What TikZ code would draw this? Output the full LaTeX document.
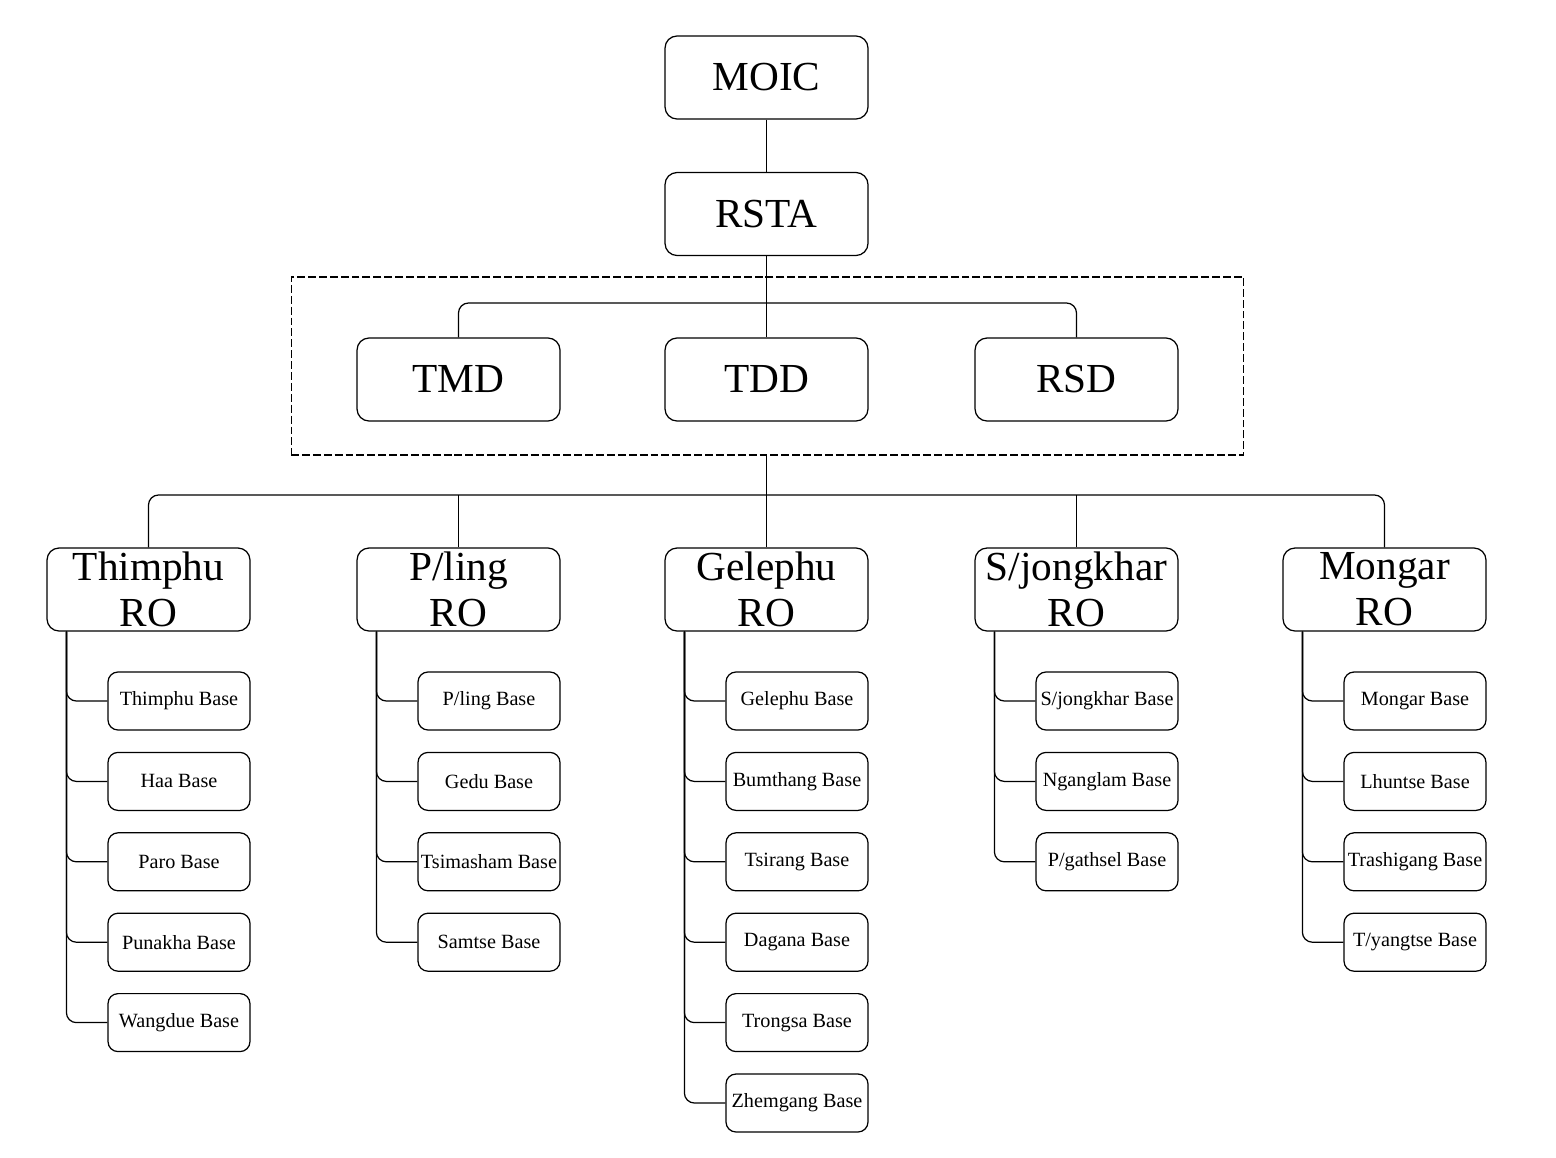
\documentclass[tikz,border=0pt]{standalone}
\usepackage{fontspec}
\setmainfont{Liberation Serif}
\usetikzlibrary{positioning}

\begin{document}
\begin{tikzpicture}[x=0.02cm, y=-0.02cm,
      office/.style={draw, rounded corners=0.24cm, minimum width=4.06cm, minimum height=1.66cm,
                     line width=0.7pt, inner sep=0pt, align=center, font=\fontsize{23.5}{26}\selectfont},
      base/.style={draw, rounded corners=0.2cm, minimum width=2.84cm, minimum height=1.16cm,
                   line width=0.7pt, inner sep=0pt, font=\fontsize{11.5}{13}\selectfont},
      group/.style={draw, dash pattern=on 4.5pt off 1.7pt, line width=0.6pt,
                    minimum width=19.06cm, minimum height=3.56cm},
      link/.style={line width=0.7pt, rounded corners=0.2cm}
    ]
    \useasboundingbox (0,0) rectangle (1556,1157);
    % head office
    \node[office] (moic) at (766.5,77.5) {MOIC};
    \node[office] (rsta) at (766.5,214) {RSTA};
    % divisions
    \node[group] (div) at (767.5,366) {};
    \node[office] (tmd) at (458.5,379.5) {TMD};
    \node[office] (tdd) at (766.5,379.5) {TDD};
    \node[office] (rsd) at (1076.5,379.5) {RSD};
    \coordinate (bus1) at (766.5,303);
    \coordinate (bus2) at (766.5,495);
    \draw[link] (moic) -- (rsta);
    \draw[link] (rsta) -- (tdd);
    \draw[link] (tmd.north) |- (bus1) -| (rsd.north);
    % regional offices
    \node[office] (thimphu) at (148.5,589.5) {Thimphu\\RO};
    \node[office] (pling) at (458.5,589.5) {P/ling\\RO};
    \node[office] (gelephu) at (766.5,589.5) {Gelephu\\RO};
    \node[office] (sjongkhar) at (1076.5,589.5) {S/jongkhar\\RO};
    \node[office] (mongar) at (1384.5,589.5) {Mongar\\RO};
    \draw[link] (gelephu.north |- div.south) -- (gelephu.north);
    \draw[link] (thimphu.north) |- (bus2) -| (mongar.north);
    \foreach \ro in {pling,sjongkhar}
      \draw[link] (\ro.north) -- (\ro.north |- bus2);
    % bases under each RO
    \foreach \ro/\cx/\kids in {thimphu/148.5/{Thimphu,Haa,Paro,Punakha,Wangdue},
                               pling/458.5/{P/ling,Gedu,Tsimasham,Samtse},
                               gelephu/766.5/{Gelephu,Bumthang,Tsirang,Dagana,Trongsa,Zhemgang},
                               sjongkhar/1076.5/{S/jongkhar,Nganglam,P/gathsel},
                               mongar/1384.5/{Mongar,Lhuntse,Trashigang,T/yangtse}}{
      \foreach \kid [count=\k] in \kids {
        \node[base] (\ro-\k) at (\cx+30.5,{701+80.4*(\k-1)}) {\kid{} Base};
        \draw[link] ([xshift=0.4cm]\ro.south west) |- (\ro-\k.west);
      }
    }
  \end{tikzpicture}
\end{document}
